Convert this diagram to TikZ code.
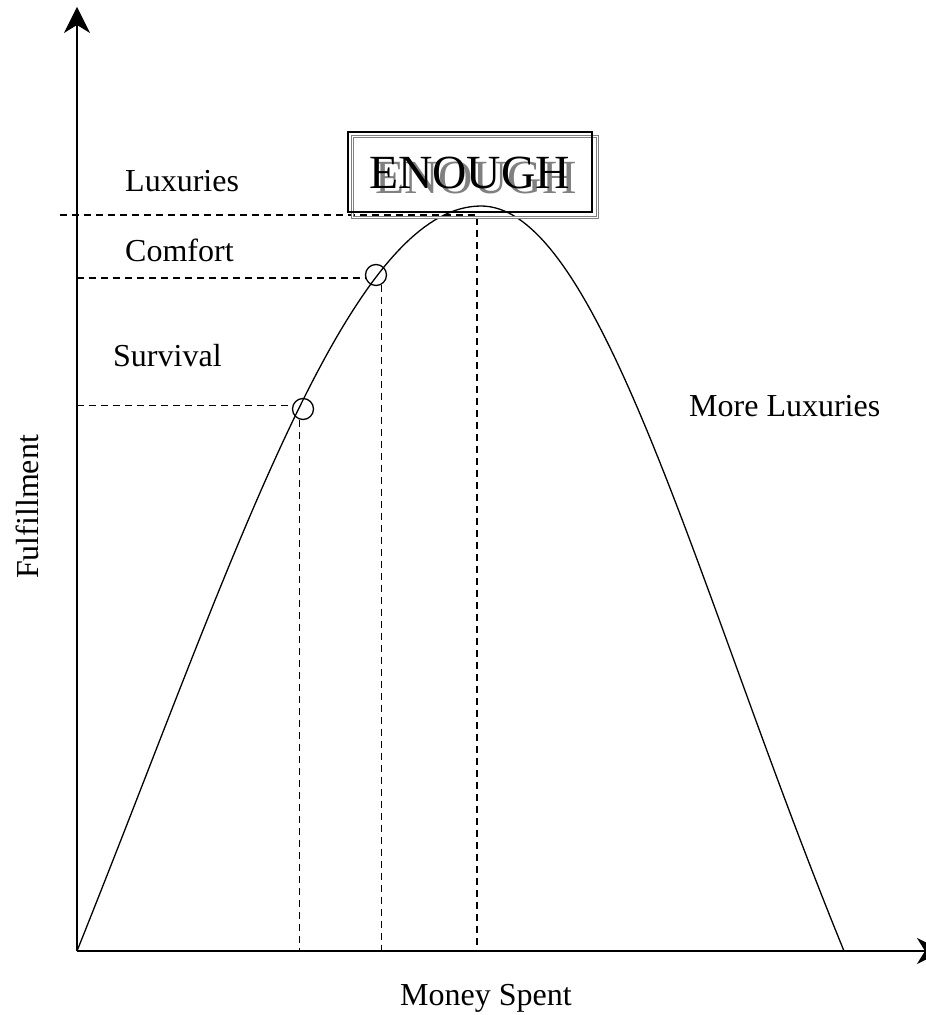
\documentclass[tikz,border=0pt]{standalone}
\usepackage{fontspec}
\setmainfont{Liberation Serif}
\usetikzlibrary{arrows.meta,positioning,calc}

\begin{document}
\begin{tikzpicture}
  [x=1pt,y=1pt,
   axisL/.style={-{Stealth[length=26pt,width=26pt,inset=8pt]}},
   guide/.style={dash pattern=on 7pt off 5pt,line width=1.3pt},
   markC/.style={circle,draw,line width=1.3pt,minimum size=21pt,inner sep=0pt},
   lbl/.style={font=\fontsize{32}{38}\selectfont,inner sep=0pt},
   big/.style={font=\fontsize{47.6}{56}\selectfont,inner sep=0pt}]

  \useasboundingbox (-77,-64) rectangle (849,951);

  \coordinate (o) at (0,0);
  \coordinate (ytop) at (0,944);
  \coordinate (xend) at (866,0);
  \coordinate (luxL) at (-17,736);
  \coordinate (peak) at (400,736);

  % axes
  \draw [axisL,line width=1.3pt] (o) -- (ytop);
  \draw [axisL,line width=2pt] (o) -- (xend);

  % the curve
  \draw [line width=1.3pt]
    plot[domain=0:1,samples=80]
      ({404*\x},{745*(sin(90*\x)-0.07*sin(180*\x)*(1-\x))})
    -- plot[domain=1:0,samples=80]
      ({767-363*\x},{745*(sin(90*\x)-0.12*sin(180*\x)*(1-\x))});

  \node[markC] (surv) at (226,542) {};
  \node[markC] (comf) at (299,676) {};

  \draw [guide] (surv.163 -| o) -- (surv.163);
  \draw [guide] (surv.-107) -- (surv.-107 |- o);
  \draw [guide] (comf.195 -| o) -- (comf.195);
  \draw [guide] (comf.-60) -- (comf.-60 |- o);
  \draw [guide] (luxL) -- (peak) -- (peak |- o);

  \node[lbl,anchor=base west] (luxT) at (48,759) {Luxuries};
  \node[lbl,anchor=base west] (comT) at (48,689) {Comfort};
  \node[lbl,anchor=base west] (surT) at (36,584) {Survival};
  \node[lbl,anchor=base west] (moreT) at (612,534) {More Luxuries};
  \node[lbl,anchor=base] (xlab) at (409,-54) {Money Spent};
  \node[lbl,anchor=base,rotate=90] (ylab) at (-38,444) {Fulfillment};

  % ENOUGH with its shadow
  \node[draw=gray,line width=0.8pt,double,double distance=1.5pt,
        minimum width=245pt,minimum height=81pt] (shadowB) at (398,774) {};
  \node[big,anchor=base,text=gray] (shadowT) at (399,757) {ENOUGH};
  \node[draw,line width=1.8pt,minimum width=244pt,minimum height=80pt]
        (enoughB) at (393,779) {};
  \node[big,anchor=base] (enoughT) at (392.5,762) {ENOUGH};

\end{tikzpicture}
\end{document}
